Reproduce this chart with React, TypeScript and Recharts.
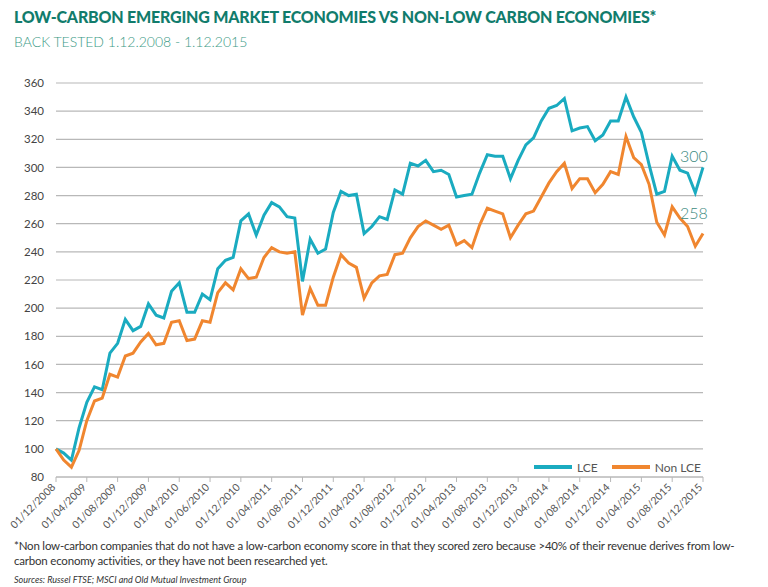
import React from 'react';
import { LineChart, Line, XAxis, YAxis, CartesianGrid } from 'recharts';

const tickLabels = [
  '01/12/2008', '01/04/2009', '01/08/2009', '01/12/2009', '01/04/2010', '01/06/2010',
  '01/12/2010', '01/04/2011', '01/08/2011', '01/12/2011', '01/04/2012', '01/08/2012',
  '01/12/2012', '01/04/2013', '01/08/2013', '01/12/2013', '01/04/2014', '01/08/2014',
  '01/12/2014', '01/04/2015', '01/08/2015', '01/12/2015',
];

const lce = [
  100, 97, 92, 115, 133, 144, 142, 168, 175, 192, 184, 187, 203, 195, 193, 212, 218, 197, 197, 210,
  206, 228, 234, 236, 262, 267, 252, 266, 275, 272, 265, 264, 219, 249, 239, 242, 268, 283, 280, 281,
  253, 258, 265, 263, 284, 281, 303, 301, 305, 297, 298, 295, 279, 280, 281, 296, 309, 308, 308, 292,
  305, 316, 321, 333, 342, 344, 349, 326, 328, 329, 319, 323, 333, 333, 350, 336, 325, 302, 281, 283,
  308, 298, 296, 282, 300,
];

const nonLce = [
  100, 92, 87, 99, 120, 134, 136, 153, 151, 166, 168, 176, 182, 174, 175, 190, 191, 177, 178, 191,
  190, 211, 218, 213, 228, 221, 222, 236, 243, 240, 239, 240, 195, 214, 202, 202, 222, 238, 232, 229,
  207, 218, 223, 224, 238, 239, 250, 258, 262, 259, 256, 259, 245, 248, 243, 259, 271, 269, 267, 250,
  259, 267, 269, 279, 289, 297, 303, 285, 292, 292, 282, 288, 297, 295, 322, 307, 302, 288, 261, 252,
  272, 264, 258, 244, 253,
];

const yTicks = [80, 100, 120, 140, 160, 180, 200, 220, 240, 260, 280, 300, 320, 340, 360];

const data = lce.map((v, i) => ({ m: i, lce: v, non: nonLce[i] }));
const xTicks = tickLabels.map((_, i) => i * 4);

const font = 'Lato, "DejaVu Sans", sans-serif';

const AngledTick = (props: any) => {
  const { x, y, payload } = props;
  return (
    <g transform={`translate(${x},${y + 4})`}>
      <text textAnchor="end" transform="rotate(-45)" fill="#555" fontSize={10.5} fontFamily={font}>
        {tickLabels[payload.value / 4]}
      </text>
    </g>
  );
};

const LegendItem = ({ color, label }: { color: string; label: string }) => (
  <span style={{ display: 'inline-flex', alignItems: 'center', marginLeft: 14 }}>
    <span style={{ display: 'inline-block', width: 38, height: 4, background: color, marginRight: 5 }} />
    <span style={{ color: '#555', fontSize: 12 }}>{label}</span>
  </span>
);

export default function App() {
  return (
    <div style={{ position: 'absolute', left: 0, top: 0, width: 768, height: 587, background: '#fff', fontFamily: font }}>
      <div style={{ position: 'absolute', left: 14, top: 7, fontSize: 16, fontWeight: 900, color: '#117c6c', letterSpacing: -0.2 }}>
        LOW-CARBON EMERGING MARKET ECONOMIES VS NON-LOW CARBON ECONOMIES*
      </div>
      <div style={{ position: 'absolute', left: 14, top: 33, fontSize: 14, color: '#3c9a86', fontWeight: 300 }}>
        BACK TESTED 1.12.2008 - 1.12.2015
      </div>
      <LineChart
        width={768}
        height={587}
        data={data}
        margin={{ top: 83, right: 65, bottom: 45, left: 0 }}
        style={{ position: 'absolute', left: 0, top: 0 }}
      >
        <CartesianGrid vertical={false} stroke="#b8b8b8" strokeWidth={1.2} />
        <XAxis
          dataKey="m"
          type="number"
          domain={[0, 84]}
          ticks={xTicks}
          interval={0}
          tick={<AngledTick />}
          height={65}
          axisLine={{ stroke: '#b8b8b8' }}
          tickLine={{ stroke: '#b8b8b8' }}
          tickSize={5}
        />
        <YAxis
          domain={[80, 360]}
          ticks={yTicks}
          width={56}
          axisLine={false}
          tickLine={false}
          tick={{ fill: '#444', fontSize: 11.5, fontFamily: font }}
          tickMargin={6}
        />
        <Line dataKey="lce" name="LCE" stroke="#1aabc0" strokeWidth={3} dot={false} isAnimationActive={false} />
        <Line dataKey="non" name="Non LCE" stroke="#f0862f" strokeWidth={3} dot={false} isAnimationActive={false} />
      </LineChart>
      <div style={{ position: 'absolute', left: 520, top: 453 }}>
        <LegendItem color="#1aabc0" label="LCE" />
        <LegendItem color="#f0862f" label="Non LCE" />
      </div>
      <div style={{ position: 'absolute', left: 680, top: 146, fontSize: 16, color: '#3c8a80', fontWeight: 300 }}>300</div>
      <div style={{ position: 'absolute', left: 680, top: 203, fontSize: 16, color: '#3c8a80', fontWeight: 300 }}>258</div>
      <div style={{ position: 'absolute', left: 14, top: 538, width: 722, fontSize: 11.5, color: '#333', lineHeight: '15px', letterSpacing: -0.2 }}>
        *Non low-carbon companies that do not have a low-carbon economy score in that they scored zero because &gt;40% of their revenue derives from low-carbon economy activities, or they have not been researched yet.
      </div>
      <div style={{ position: 'absolute', left: 14, top: 574, fontSize: 9, color: '#333', fontStyle: 'italic' }}>
        Sources: Russel FTSE; MSCI and Old Mutual Investment Group
      </div>
    </div>
  );
}
